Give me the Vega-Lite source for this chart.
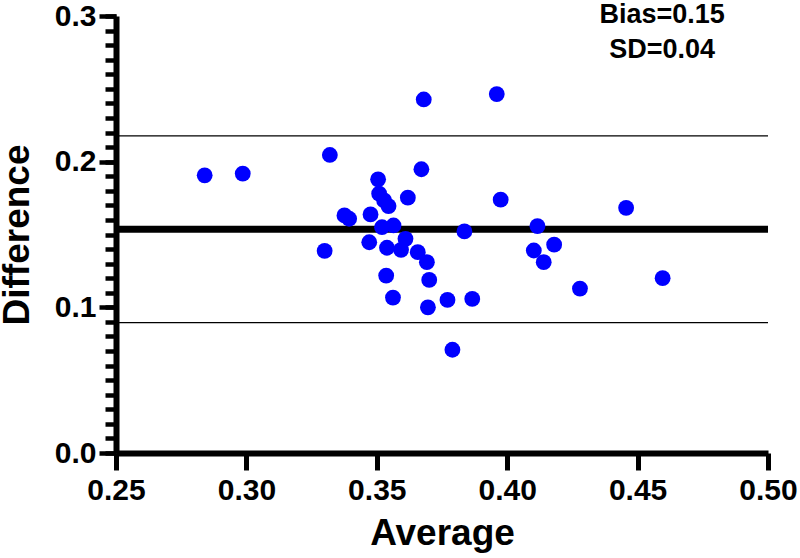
{
  "$schema": "https://vega.github.io/schema/vega-lite/v6.json",
  "width": 652,
  "height": 437,
  "autosize": {"type": "none"},
  "padding": {"left": 116, "top": 16, "right": 32, "bottom": 105},
  "background": "white",
  "config": {
    "view": {"stroke": null},
    "font": "Liberation Sans",
    "axis": {
      "grid": false,
      "domainColor": "black",
      "tickColor": "black",
      "labelColor": "black",
      "titleColor": "black",
      "labelFont": "Liberation Sans",
      "titleFont": "Liberation Sans",
      "labelFontWeight": "bold",
      "titleFontWeight": "bold",
      "labelFontSize": 30,
      "titleFontSize": 37,
      "labelOverlap": false
    }
  },
  "data": {
    "values": [
      {"avg": 0.284, "diff": 0.1906},
      {"avg": 0.2986, "diff": 0.1918},
      {"avg": 0.332, "diff": 0.2046},
      {"avg": 0.368, "diff": 0.2427},
      {"avg": 0.3671, "diff": 0.1948},
      {"avg": 0.3505, "diff": 0.1879},
      {"avg": 0.3509, "diff": 0.178},
      {"avg": 0.3528, "diff": 0.1734},
      {"avg": 0.3545, "diff": 0.1695},
      {"avg": 0.3619, "diff": 0.1753},
      {"avg": 0.3376, "diff": 0.1631},
      {"avg": 0.3394, "diff": 0.1608},
      {"avg": 0.3476, "diff": 0.1638},
      {"avg": 0.352, "diff": 0.155},
      {"avg": 0.3564, "diff": 0.1562},
      {"avg": 0.3836, "diff": 0.1521},
      {"avg": 0.33, "diff": 0.1388},
      {"avg": 0.3471, "diff": 0.1447},
      {"avg": 0.3539, "diff": 0.1409},
      {"avg": 0.361, "diff": 0.147},
      {"avg": 0.3593, "diff": 0.1395},
      {"avg": 0.3657, "diff": 0.1379},
      {"avg": 0.3692, "diff": 0.131},
      {"avg": 0.3536, "diff": 0.1218},
      {"avg": 0.3701, "diff": 0.1188},
      {"avg": 0.3562, "diff": 0.1067},
      {"avg": 0.3696, "diff": 0.1},
      {"avg": 0.3771, "diff": 0.1051},
      {"avg": 0.3866, "diff": 0.1058},
      {"avg": 0.379, "diff": 0.0709},
      {"avg": 0.396, "diff": 0.2464},
      {"avg": 0.3975, "diff": 0.1739},
      {"avg": 0.4456, "diff": 0.1683},
      {"avg": 0.4116, "diff": 0.1557},
      {"avg": 0.418, "diff": 0.143},
      {"avg": 0.4102, "diff": 0.139},
      {"avg": 0.414, "diff": 0.131},
      {"avg": 0.4279, "diff": 0.1129},
      {"avg": 0.4596, "diff": 0.12}
    ]
  },
  "layer": [
    {
      "data": {"values": [{}]},
      "mark": {"type": "rule", "color": "black", "strokeWidth": 1.3},
      "encoding": {"y": {"datum": 0.2177, "type": "quantitative", "axis": null}}
    },
    {
      "data": {"values": [{}]},
      "mark": {"type": "rule", "color": "black", "strokeWidth": 1.3},
      "encoding": {"y": {"datum": 0.0895, "type": "quantitative", "axis": null}}
    },
    {
      "data": {"values": [{}]},
      "mark": {"type": "rule", "color": "black", "strokeWidth": 7},
      "encoding": {
        "y": {
          "datum": 0.1536,
          "type": "quantitative",
          "axis": {
            "orient": "left",
            "title": null,
            "labels": false,
            "domain": false,
            "values": [0, 0.01, 0.02, 0.03, 0.04, 0.05, 0.06, 0.07, 0.08, 0.09, 0.1, 0.11, 0.12, 0.13, 0.14, 0.15, 0.16, 0.17, 0.18, 0.19, 0.2, 0.21, 0.22, 0.23, 0.24, 0.25, 0.26, 0.27, 0.28, 0.29, 0.3],
            "tickSize": 11,
            "tickWidth": 4.5
          }
        }
      }
    },
    {
      "mark": {"type": "circle", "size": 250, "color": "#0000ff", "opacity": 1},
      "encoding": {
        "x": {
          "field": "avg",
          "type": "quantitative",
          "scale": {"domain": [0.25, 0.5], "nice": false, "zero": false},
          "axis": {
            "title": "Average",
            "values": [0.25, 0.3, 0.35, 0.4, 0.45, 0.5],
            "format": ".2f",
            "tickSize": 17,
            "tickWidth": 5,
            "domainWidth": 6,
            "labelPadding": 5,
            "labelFlush": false,
            "titlePadding": 10
          }
        },
        "y": {
          "field": "diff",
          "type": "quantitative",
          "scale": {"domain": [0, 0.3], "nice": false},
          "axis": {
            "orient": "left",
            "title": "Difference",
            "values": [0, 0.1, 0.2, 0.3],
            "format": ".1f",
            "tickSize": 17,
            "tickWidth": 4.5,
            "domainWidth": 6,
            "labelPadding": 3,
            "titlePadding": 18
          }
        }
      }
    },
    {
      "data": {"values": [{}]},
      "mark": {
        "type": "text",
        "text": ["Bias=0.15", "SD=0.04"],
        "font": "Liberation Sans",
        "fontWeight": "bold",
        "fontSize": 27,
        "lineHeight": 35,
        "align": "center",
        "baseline": "alphabetic",
        "color": "black"
      },
      "encoding": {
        "x": {"datum": 0.4594, "type": "quantitative"},
        "y": {"datum": 0.2952, "type": "quantitative", "axis": null}
      }
    }
  ],
  "resolve": {"axis": {"y": "independent"}}
}
